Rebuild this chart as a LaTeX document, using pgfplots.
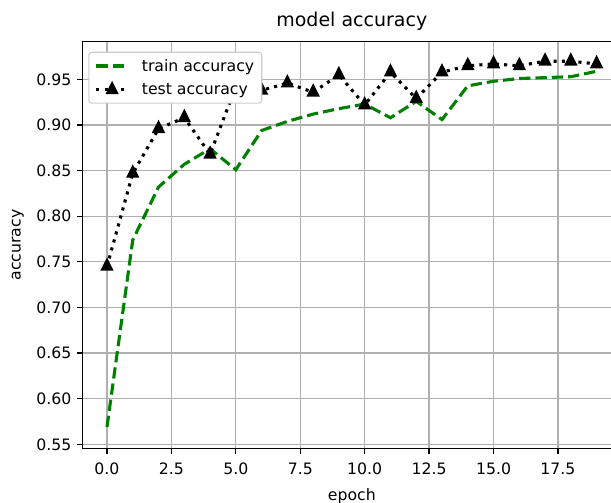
\documentclass[border=0pt]{standalone}
\usepackage{fontspec}
\setmainfont{DejaVu Sans}
\usepackage{pgfplots}
\pgfplotsset{compat=1.18}
\definecolor{mplgreen}{rgb}{0,0.5,0}
\definecolor{gridgray}{HTML}{B0B0B0}
\definecolor{legedge}{HTML}{CCCCCC}

\pgfplotstableread{
x y
0 0.569
1 0.774
2 0.832
3 0.857
4 0.874
5 0.851
6 0.894
7 0.904
8 0.912
9 0.918
10 0.923
11 0.908
12 0.926
13 0.906
14 0.943
15 0.948
16 0.951
17 0.952
18 0.953
19 0.959
}\train
\pgfplotstableread{
x y
0 0.745
1 0.847
2 0.896
3 0.908
4 0.868
5 0.942
6 0.938
7 0.946
8 0.936
9 0.955
10 0.922
11 0.958
12 0.929
13 0.958
14 0.965
15 0.967
16 0.965
17 0.970
18 0.970
19 0.967
}\test

\begin{document}
\begin{tikzpicture}
\begin{axis}[
  scale only axis,
  width=538.6bp, height=406.6bp,
  at={(0,0)}, anchor=south west,
  xmin=-0.95, xmax=19.95, ymin=0.5456, ymax=0.9914,
  axis line style={line width=1.25bp, black},
  tick align=outside,
  xtick pos=bottom, ytick pos=left,
  major tick length=5.5bp,
  every tick/.style={black, line width=1.25bp},
  xtick={0,2.5,...,17.5},
  ytick={0.55,0.60,...,0.951},
  grid=major,
  major grid style={gridgray, line width=1.25bp},
  /pgf/number format/assume math mode=true,
  xticklabel={\pgfmathprintnumber[fixed, fixed zerofill, precision=1]{\tick}},
  yticklabel={\pgfmathprintnumber[fixed, fixed zerofill, precision=2]{\tick}},
  tick label style={font=\fontsize{15.7bp}{18bp}\selectfont, inner sep=0pt},
  xticklabel style={anchor=north, yshift=-9bp},
  yticklabel style={anchor=east, xshift=-5.5bp},
  title={model accuracy},
  title style={font=\fontsize{19bp}{22bp}\selectfont, at={(axis description cs:0.5,1)}, anchor=base, yshift=9.4bp},
  xlabel={epoch},
  xlabel style={font=\fontsize{15.7bp}{18bp}\selectfont, at={(axis description cs:0.5,0)}, anchor=base, yshift=-52bp},
  ylabel={accuracy},
  ylabel style={font=\fontsize{15.7bp}{18bp}\selectfont, at={(axis description cs:-0.1198,0.5)}, anchor=center},
  legend style={at={(axis description cs:0,1)}, anchor=north west, xshift=5.8bp, yshift=-10bp,
    draw=legedge, line width=1.1bp, rounded corners=3bp, fill=white, fill opacity=1, text opacity=1, draw opacity=1,
    font=\fontsize{15.7bp}{18bp}\selectfont, row sep=8bp, column sep=11bp, inner xsep=6bp, inner ysep=5.5bp,
    nodes={inner sep=1.5bp}},
  legend cell align=left,
  legend image code/.code={\draw[mark repeat=2, mark phase=2, #1] plot coordinates {(0bp,0bp) (15.7bp,0bp) (31.4bp,0bp)};},
]
\addplot[mplgreen, line width=3.1bp, dash pattern=on 11.3bp off 5bp] table[x=x,y=y]{\train};
\addlegendentry{train accuracy}
\addplot[black, line width=3.1bp, dash pattern=on 3.1bp off 5.2bp, mark=triangle*, mark size=4.8bp,
  mark options={solid, yscale=1.15, fill=black, draw=black}] table[x=x,y=y]{\test};
\addlegendentry{test accuracy}
\end{axis}
\pgfresetboundingbox
\useasboundingbox (-82.5bp,-54.7bp) rectangle (528.5bp,448.3bp);
\end{tikzpicture}
\end{document}
